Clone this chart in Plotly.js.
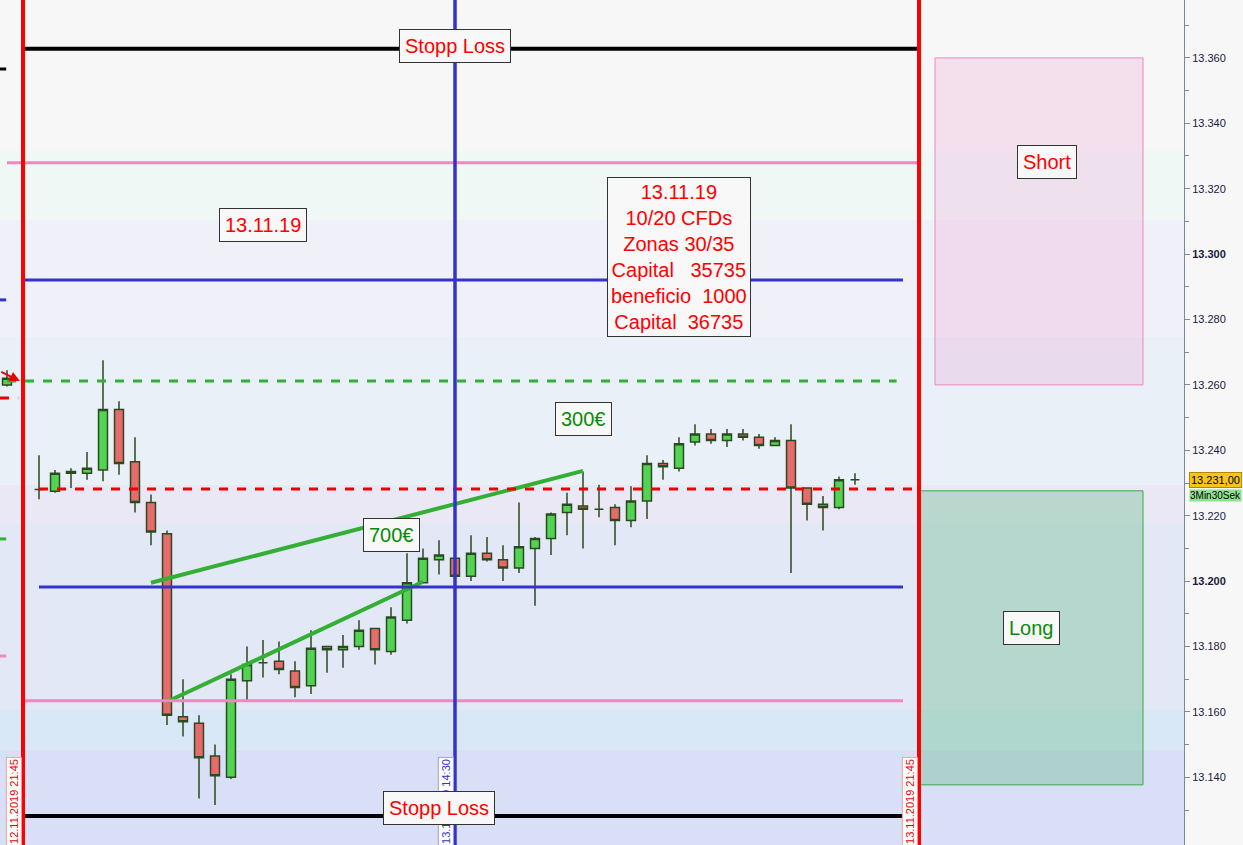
<!DOCTYPE html>
<html>
<head>
<meta charset="utf-8">
<script src="https://cdn.plot.ly/plotly-3.0.1.min.js"></script>
<style>
html, body { margin: 0; padding: 0; background: #f7f7f7; }
#chart { width: 1243px; height: 845px; }
</style>
</head>
<body>
<div id="chart"></div>
<script>
// 15 min candles, first one is the last bar of the previous session (12.11.)
const times = ['21:30',
    '08:00', '08:15', '08:30', '08:45', '09:00', '09:15', '09:30', '09:45',
    '10:00', '10:15', '10:30', '10:45', '11:00', '11:15', '11:30', '11:45',
    '12:00', '12:15', '12:30', '12:45', '13:00', '13:15', '13:30', '13:45',
    '14:00', '14:15', '14:30', '14:45', '15:00', '15:15', '15:30', '15:45',
    '16:00', '16:15', '16:30', '16:45', '17:00', '17:15', '17:30', '17:45',
    '18:00', '18:15', '18:30', '18:45', '19:00', '19:15', '19:30', '19:45',
    '20:00', '20:15', '20:30', '20:45'];
const slots = [-2,
    0, 1, 2, 3, 4, 5, 6, 7, 8, 9, 10, 11, 12, 13, 14, 15, 16, 17, 18, 19,
    20, 21, 22, 23, 24, 25, 26, 27, 28, 29, 30, 31, 32, 33, 34, 35, 36, 37,
    38, 39, 40, 41, 42, 43, 44, 45, 46, 47, 48, 49, 50, 51];

const opens = [13260,
    13228, 13227.5, 13233, 13233, 13234, 13252.5, 13236.5, 13224, 13214.5, 13158.5,
    13156.5, 13146.5, 13140, 13169.5, 13175, 13175.5, 13172.5, 13168, 13180, 13179,
    13180, 13185.5, 13178.5, 13188, 13199.5, 13206.5, 13207, 13201.5, 13208.5, 13206.5,
    13204, 13210, 13213, 13221, 13223, 13222, 13222.5, 13218.5, 13224.5, 13236,
    13234.5, 13242.5, 13245, 13243, 13245, 13244, 13241.5, 13243, 13228.5, 13223.5,
    13222.5, 13231];
const highs = [13264.5,
    13238.5, 13234, 13234.5, 13239.5, 13267.5, 13255, 13244, 13226.5, 13215.5, 13170,
    13159, 13150, 13171.5, 13180, 13182, 13181.5, 13175.5, 13185, 13180, 13183.5,
    13188, 13185.5, 13192, 13208.5, 13210, 13212.5, 13208.5, 13214, 13213.5, 13211,
    13224, 13213.5, 13221, 13227, 13233.5, 13229.5, 13223.5, 13229, 13238.5, 13237,
    13244, 13248, 13246.5, 13246.5, 13246.5, 13245, 13244, 13248, 13228.5, 13226,
    13232, 13233];
const lows = [13259.5,
    13225, 13227, 13228.5, 13231, 13230.5, 13232.5, 13221, 13211, 13156, 13152.5,
    13133.5, 13131.5, 13139.5, 13163.5, 13170.5, 13171.5, 13164.5, 13165.5, 13172, 13173.5,
    13179, 13174.5, 13177.5, 13187, 13199.5, 13202, 13201, 13200, 13206, 13200,
    13202.5, 13192.5, 13208, 13214, 13210, 13219.5, 13211, 13216.5, 13219, 13231,
    13233.5, 13241.5, 13242, 13241, 13243, 13240.5, 13241.5, 13202.5, 13218.5, 13215.5,
    13222, 13229.5];
const closes = [13262,
    13228, 13233, 13233.5, 13234.5, 13252.5, 13236, 13224, 13215, 13159, 13157,
    13146, 13140.5, 13170, 13174.5, 13175, 13173, 13167.5, 13179.5, 13179, 13180,
    13185, 13179, 13189, 13199.5, 13207, 13208, 13201.5, 13208.5, 13206.5, 13204,
    13210.5, 13213, 13220.5, 13223.5, 13222, 13222, 13218.5, 13224.5, 13236, 13235,
    13242, 13245, 13243, 13245, 13244, 13241.5, 13243, 13228.5, 13223.5, 13222.5,
    13231, 13231];

// drawn levels: [price, from slot, to slot]
const stopLossHigh = [13362.8, -1, 54.95];
const pinkHigh = [13327.9, -2, 55];
const blueHigh = [13292.1, -1, 54];
const greenDotted = [13261.2, -2, 53.6];
const redDashed = [13228.2, 0, 54.8];
const blueLow = [13198.2, 0, 54];
const pinkLow = [13163.4, -1, 54];
const stopLossLow = [13128.2, -1, 55];

// previous session stubs left of the day separator
const prevLevels = [13356.6, 13286.0, 13256.0, 13212.9, 13177.1];

// trend lines
const trendA = { x: [7, 34], y: [13199.5, 13233.7] };
const trendB = { x: [8, 24], y: [13163.1, 13199.8] };

// zones on the right
const shortZone = [56, 69, 13260, 13360];
const longZone = [55, 69, 13137.7, 13227.6];

// day separators
const sepSession = [-1, 55];
const sepMid = 26;

// background bands (price boundaries)
const bandEdges = [13119, 13148.4, 13160.6, 13217.8, 13229.4, 13274.7, 13310.5, 13331.6, 13378];
const bandColors = ['#d8dff7', '#d9e8f6', '#e2e8f6', '#ebe8f6', '#e9f0f8', '#f0f0f8', '#eff8f5', '#f7f7f7'];

const priceTicks = [13140, 13160, 13180, 13200, 13220, 13240, 13260, 13280, 13300, 13320, 13340, 13360];
const lastPrice = 13231;

const fmt = v => {
    const s = String(v);
    const t = s.slice(0, 2) + '.' + s.slice(2);
    return (v % 100 === 0) ? '<b>' + t + '</b>' : t;
};

const shapes = [];
for (let i = 0; i < bandColors.length; i++) {
    shapes.push({ type: 'rect', xref: 'paper', yref: 'y', x0: 0, x1: 1,
        y0: bandEdges[i], y1: bandEdges[i + 1], fillcolor: bandColors[i],
        line: { width: 0 }, layer: 'below' });
}
function hline(level, color, width, dash) {
    shapes.push({ type: 'line', xref: 'x', yref: 'y', x0: level[1], x1: level[2],
        y0: level[0], y1: level[0], line: { color: color, width: width, dash: dash || 'solid' } });
}
shapes.push({ type: 'rect', xref: 'x', yref: 'y', x0: shortZone[0], x1: shortZone[1],
    y0: shortZone[2], y1: shortZone[3], fillcolor: 'rgba(236,140,205,0.22)',
    line: { color: '#ee88c0', width: 1 }, layer: 'below' });
shapes.push({ type: 'rect', xref: 'x', yref: 'y', x0: longZone[0], x1: longZone[1],
    y0: longZone[2], y1: longZone[3], fillcolor: 'rgba(120,190,150,0.42)',
    line: { color: '#3aa845', width: 1 }, layer: 'below' });

hline(pinkHigh, '#f584c0', 3);
hline(blueHigh, '#3333cc', 3);
hline(greenDotted, '#33b033', 3, 'dash');
hline(blueLow, '#3333cc', 3);
hline(pinkLow, '#f584c0', 3);
hline(redDashed, '#ee0000', 3, 'dash');
hline(stopLossHigh, '#000000', 4);
hline(stopLossLow, '#000000', 4);

const prevColors = ['#000000', '#3333cc', '#ee0000', '#33b033', '#f584c0'];
prevLevels.forEach((p, k) => {
    shapes.push({ type: 'line', xref: 'x', yref: 'y', x0: -2.44, x1: k === 2 ? -1.3 : -2.05,
        y0: p, y1: p, line: { color: prevColors[k], width: 3, dash: k === 2 ? 'dash' : 'solid' } });
});

sepSession.forEach(s => {
    shapes.push({ type: 'line', xref: 'x', yref: 'paper', x0: s, x1: s, y0: 0, y1: 1,
        line: { color: '#ff0000', width: 4 } });
});
shapes.push({ type: 'line', xref: 'x', yref: 'paper', x0: sepMid, x1: sepMid, y0: 0, y1: 1,
    line: { color: '#3333cc', width: 3.5 } });

const candles = {
    type: 'candlestick',
    x: slots, open: opens, high: highs, low: lows, close: closes,
    text: times, hoverinfo: 'skip', showlegend: false, whiskerwidth: 0,
    increasing: { line: { color: '#2b4a22', width: 1.5 }, fillcolor: '#52d452' },
    decreasing: { line: { color: '#2b4a22', width: 1.5 }, fillcolor: '#e86b6b' }
};
const lineA = { type: 'scatter', mode: 'lines', x: trendA.x, y: trendA.y,
    line: { color: '#33b033', width: 4 }, hoverinfo: 'skip', showlegend: false };
const lineB = { type: 'scatter', mode: 'lines', x: trendB.x, y: trendB.y,
    line: { color: '#33b033', width: 4 }, hoverinfo: 'skip', showlegend: false };

const boxFont = { family: 'Liberation Sans, Arial, sans-serif', size: 20, color: '#ff0000' };
const greenFont = { family: 'Liberation Sans, Arial, sans-serif', size: 20, color: '#0a8a0a' };
function note(x, y, text, font) {
    return { xref: 'x', yref: 'y', x: x, y: y, text: text, showarrow: false, font: font,
        bgcolor: '#f8f8f8', bordercolor: '#333333', borderwidth: 1, borderpad: 5 };
}
function dateTag(x, text, color, border) {
    return { xref: 'x', yref: 'y', x: x, y: 13146.2, text: text, showarrow: false,
        textangle: -90, xanchor: 'center', yanchor: 'top',
        font: { family: 'Liberation Sans, Arial, sans-serif', size: 11, color: color },
        bgcolor: '#ffffff', bordercolor: border, borderwidth: 1, borderpad: 1 };
}

const annotations = [
    dateTag(-1.6, '12.11.2019 21:45', '#ee0000', '#f4a0a0'),
    dateTag(25.4, '13.11.2019 14:30', '#3333cc', '#a0a0e0'),
    dateTag(54.4, '13.11.2019 21:45', '#ee0000', '#f4a0a0'),
    note(26, 13363.7, 'Stopp Loss', boxFont),
    note(25, 13130.7, 'Stopp Loss', boxFont),
    note(14, 13308.9, '13.11.19', boxFont),
    Object.assign(note(40, 13299.1,
        '13.11.19<br>10/20 CFDs<br>Zonas 30/35<br>Capital   35735<br>beneficio  1000<br>Capital  36735',
        boxFont), { borderpad: 3 }),
    note(34, 13249.6, '300€', greenFont),
    note(22, 13214.1, '700€', greenFont),
    note(63, 13328.2, 'Short', boxFont),
    note(62, 13185.7, 'Long', greenFont),
    { xref: 'paper', yref: 'y', x: 1.004, y: lastPrice, xanchor: 'left', text: '13.231,00',
      showarrow: false, font: { family: 'Liberation Sans, Arial, sans-serif', size: 11, color: '#000' },
      bgcolor: '#f5c518', bordercolor: '#b08a00', borderwidth: 1, borderpad: 1 },
    { xref: 'paper', yref: 'y', x: 1.004, y: 13226.3, xanchor: 'left', text: '3Min30Sek',
      showarrow: false, font: { family: 'Liberation Sans, Arial, sans-serif', size: 10, color: '#000' },
      bgcolor: '#90e090', borderpad: 0 },
    { xref: 'x', yref: 'y', x: -1.2, y: 13261.2, ax: -2.45, ay: 13264.2, axref: 'x', ayref: 'y',
      text: '', showarrow: true, arrowhead: 2, arrowsize: 1, arrowwidth: 2, arrowcolor: '#ee0000' }
];

const layout = {
    width: 1243,
    height: 845,
    margin: { l: 0, r: 59, t: 0, b: 0 },
    paper_bgcolor: '#f7f7f7',
    plot_bgcolor: '#f7f7f7',
    showlegend: false,
    boxgap: 0.2,
    xaxis: {
        range: [-2.4375, 71.5625],
        visible: false,
        showgrid: false,
        zeroline: false,
        rangeslider: { visible: false }
    },
    yaxis: {
        side: 'right',
        range: [13119.3, 13377.7],
        showgrid: false,
        zeroline: false,
        showline: true,
        linecolor: '#7a8a99',
        linewidth: 1,
        ticks: 'outside',
        ticklen: 5,
        tickcolor: '#7a8a99',
        tickmode: 'array',
        tickvals: priceTicks,
        ticktext: priceTicks.map(fmt),
        tickfont: { family: 'Liberation Sans, Arial, sans-serif', size: 11, color: '#1a1a40' },
        minor: { tickmode: 'linear', tick0: 13130, dtick: 20, ticks: 'outside', ticklen: 4, tickcolor: '#7a8a99' }
    },
    shapes: shapes,
    annotations: annotations
};

Plotly.newPlot('chart', [candles, lineA, lineB], layout, { displayModeBar: false, staticPlot: true });
</script>
</body>
</html>
